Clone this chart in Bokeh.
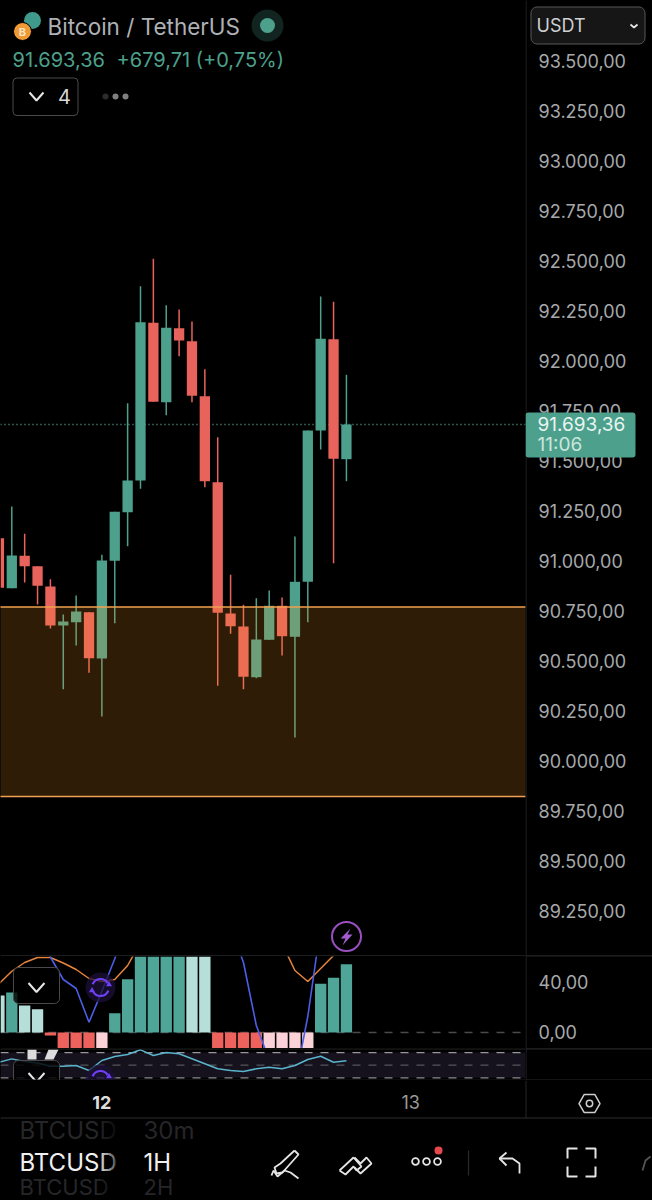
from bokeh.plotting import figure
from bokeh.layouts import column
from bokeh.models import Range1d, FixedTicker, Span, BoxAnnotation, LinearAxis
from bokeh.core.properties import value
from bokeh.embed import file_html
from bokeh.resources import INLINE

# ---- data ----
opens  = [91119,90869,91031,90979,90877.5,90682.5,90699,90749,90517.5,91006,91249,91407.5,92196,91799,92169,92104,91829,91399,90742.5,90677.5,90424,90611,90781,90626,90901,91657.5,92114,91514]
highs  = [91119,91277.5,91141,90979,90914,90737.5,90832.5,90749,91036,91251,91794,92379,92516,92284,92262.5,92202.5,91964,91624,90936,90786,90819,90857.5,90822.5,91127.5,91657.5,92327.5,92301,91936]
lows   = [90871,90869,90897.5,90787.5,90667.5,90364,90582.5,90446,90227.5,90694,91079,91366,91801,91734,92029,91799,91374,90381,90641,90364,90419,90611,90532.5,90122.5,90699,91562.5,90994,91404]
closes = [90871,91032.5,90979,90881,90682.5,90702.5,90752.5,90519,91007.5,91251,91407.5,92199,91801,92171,92107.5,91831,91404,90746,90679,90426,90612.5,90781,90629,90901,91657.5,92116,91516,91687.5]
last_price_level = 91687.5
zone_top, zone_bottom = 90775, 89827.5
price_ticks = [93500,93250,93000,92750,92500,92250,92000,91750,91500,91250,91000,90750,90500,90250,90000,89750,89500,89250]
price_labels = ["93.500,00","93.250,00","93.000,00","92.750,00","92.500,00","92.250,00","92.000,00","91.750,00","91.500,00","91.250,00","91.000,00","90.750,00","90.500,00","90.250,00","90.000,00","89.750,00","89.500,00","89.250,00"]

hist = [29.6,32,21.6,18.6,-2.4,-12.5,-12.5,-12.5,-12.5,15.4,42.6,70,75,78,72,65,62,-12.5,-12.5,-12.5,-12.5,-12.5,-12.5,-12.5,-12.5,39,43.8,54.6]
hist_kind = ["l","d","l","l","r","r","r","r","p","d","d","d","d","d","d","l","l","r","r","r","r","p","p","p","p","d","d","d"]
macd_orange = [39,49,56,60,60,55.6,50.4,43.2,40.8,42.4,53.6,72,90,105,115,120,122,118,108,97,88,78,71,49.6,40.8,51.2,61.6,70]
macd_blue = [110,95,88,80,60.4,42.4,35.2,8.2,33,59,90,120,135,140,138,130,120,105,85,56,5.6,-22,-30,-40,12.8,85,110,130]
rsi = [54.7,60,55.8,53.5,48.4,48.4,49.5,41.6,57.4,63.8,66.9,74.3,65.3,70.1,68,60.1,52.2,44.3,41.6,40,44.3,46.8,44.3,49.5,59,64.2,54.7,57]
rsi_levels = [70,50,30]
time_ticks = [8,32]
time_labels = ["12","13"]

# ---- style ----
BG="#000000"; GREEN="#4da08c"; RED="#e8635c"; AXIS="#a6a9ab"; RULE="#262628"; FONT="Inter"
hist_colors={"d":"#4fa598","l":"#b7dfd9","r":"#ee625e","p":"#fbd2d8"}
PX=12.87; X0=-1.57
xr=lambda w:((0-X0)/PX,(w-X0)/PX)
idx=list(range(len(opens)))

def base(h,w=525,right=127,yr=None,xw=525,**kw):
    s,e=xr(xw)
    f=figure(width=652,height=h,frame_width=w,frame_height=h,output_backend="svg",toolbar_location=None,
             x_range=Range1d(s,e),y_range=yr or Range1d(0,1),x_axis_location=None,y_axis_location=None,
             background_fill_color=BG,border_fill_color=BG,outline_line_color=None,
             min_border_left=0,min_border_right=right,min_border_top=0,min_border_bottom=0,**kw)
    f.grid.visible=False
    return f

def add_px(f,top,bottom,w):
    f.extra_x_ranges["px"]=Range1d(0,w)
    f.extra_y_ranges["py"]=Range1d(bottom,top)
P=dict(x_range_name="px",y_range_name="py")

def raxis(f,ticks,labels,shift,size="18px"):
    # the app draws its labels slightly above the true level; "shift" reproduces that
    pos=[t+shift for t in ticks]
    a=LinearAxis(ticker=FixedTicker(ticks=pos),major_label_overrides={t:l for t,l in zip(pos,labels)},
        axis_line_color=None,major_tick_line_color=None,minor_tick_line_color=None,major_tick_out=0,major_tick_in=0,
        major_label_standoff=13,major_label_text_color=AXIS,major_label_text_font=FONT,major_label_text_font_size=size)
    f.add_layout(a,"right")

def chevron(f,x,y,w=8,h=5,color="#e6e6e6",lw=2):
    f.line([x-w,x,x+w],[y-h,y+h,y-h],line_color=color,line_width=lw,**P)

def refresh(f,x,y,r=8.5):
    f.circle([x],[y],radius=15,fill_color="#1c1038",fill_alpha=0.75,line_color=None,**P)
    f.arc([x],[y],radius=r,start_angle=0.55,end_angle=2.75,line_color="#6e40f5",line_width=2.2,direction="anticlock",**P)
    f.arc([x],[y],radius=r,start_angle=3.7,end_angle=5.9,line_color="#6e40f5",line_width=2.2,direction="anticlock",**P)
    f.scatter([x-r,x+r],[y+3,y-3],marker="triangle",size=6,fill_color="#6e40f5",line_color=None,**P)

# ---- main pane ----
H1=956
main=base(H1,yr=Range1d(89027.5,93807.5))
add_px(main,0,H1,525)
raxis(main,price_ticks,price_labels,5)
main.add_layout(Span(location=last_price_level,dimension="width",line_color="#5aa896",line_width=1.3,line_dash="1 3",level="underlay"))
colors=[GREEN if c>=o else RED for o,c in zip(opens,closes)]
main.segment(idx,lows,idx,highs,line_color=colors,line_width=1.5)
main.vbar(idx,0.8,[max(o,c) for o,c in zip(opens,closes)],[min(o,c) for o,c in zip(opens,closes)],fill_color=colors,line_color=None)
xs_,xe_=xr(525)
main.quad(left=[xs_-1],right=[xe_+1],top=[zone_top],bottom=[zone_bottom],fill_color="#ff9a20",fill_alpha=0.18,line_color=None)
for z in (zone_top,zone_bottom):
    main.line([xs_-1,xe_+1],[z,z],line_color="#f0a050",line_width=1.5)

# header
main.circle([32],[20],radius=8.5,fill_color="#3f9a8c",line_color=None,**P)
main.circle([22],[31],radius=9,fill_color="#f09a36",line_color="#000000",line_width=1,**P)
main.text([22],[31],text=["B"],text_color="#f8e3c0",text_font=value(FONT),text_font_style="bold",text_font_size="11px",text_align="center",text_baseline="middle",**P)
main.text([47],[26],text=["Bitcoin / TetherUS"],text_color="#aeb1b6",text_font=value(FONT),text_font_size="22.5px",text_baseline="middle",**P)
main.circle([267],[25],radius=16,fill_color="#11241f",line_color=None,**P)
main.circle([267],[25],radius=7.5,fill_color=GREEN,line_color=None,**P)
main.text([12],[59],text=["91.693,36"],text_color=GREEN,text_font=value(FONT),text_font_size="20px",text_baseline="middle",**P)
main.text([116],[59],text=["+679,71 (+0,75%)"],text_color=GREEN,text_font=value(FONT),text_font_size="20px",text_baseline="middle",**P)
main.quad(left=[12.5],right=[77.5],top=[77.5],bottom=[115],fill_color=BG,line_color="#4a4a4a",line_width=1,border_radius=4,**P)
chevron(main,36,96,7,4)
main.text([64],[96],text=["4"],text_color="#d8d8d8",text_font=value(FONT),text_font_size="20px",text_align="center",text_baseline="middle",**P)
main.circle([105,115,125],[96,96,96],radius=3,fill_color=["#2c2c2c","#808080","#808080"],line_color=None,**P)
# lightning badge
main.circle([346],[936],radius=14.5,fill_color=BG,line_color="#9a4fc2",line_width=2,**P)
main.patch([350,340,345,342,352,347],[928,938,938,945,934,934],fill_color="#a35bd0",line_color=None,**P)
main.line([0,525],[955.3,955.3],line_color=RULE,line_width=1.2,**P)

# ---- oscillator pane ----
H2=92
macd=base(H2,yr=Range1d(-12.8,60.8))
add_px(macd,956,1048,525)
raxis(macd,[40,0],["40,00","0,00"],0.8)
macd.add_layout(Span(location=0,dimension="width",line_color="#4a4a4a",line_width=1.3,line_dash="8 8",level="underlay"))
macd.vbar(idx,0.88,hist,0,fill_color=[hist_colors[k] for k in hist_kind],line_color=None)
macd.line(idx,macd_orange,line_color="#e8843c",line_width=1.5)
macd.line(idx,macd_blue,line_color="#4a5fe6",line_width=1.6)
macd.quad(left=[13],right=[59],top=[967],bottom=[1003],fill_color=BG,fill_alpha=0.82,line_color="#4a4a4a",line_width=1,border_radius=5,**P)
chevron(macd,36,987,8,4.5)
refresh(macd,100,987)

# ---- rsi pane ----
H3=32
rs=base(H3,yr=Range1d(25.8,76.4))
add_px(rs,1048,1080,525)
rs.add_layout(BoxAnnotation(top=rsi_levels[0],bottom=rsi_levels[2],fill_color="#15111d",fill_alpha=1,line_color=None,level="underlay"))
for lv,c in zip(rsi_levels,["#9a9a9e","#55555a","#8a8a8e"]):
    rs.add_layout(Span(location=lv,dimension="width",line_color=c,line_width=1.2,line_dash="8 8",level="underlay"))
rs.line(idx,rsi,line_color="#5ab4cc",line_width=1.5)
rs.quad(left=[27],right=[36],top=[1049],bottom=[1059],fill_color="#dcdcdc",line_color=None,**P)
rs.patch([48,58,53,44],[1049,1049,1059,1059],fill_color="#dcdcdc",line_color=None,**P)
rs.quad(left=[13],right=[59],top=[1060],bottom=[1090],fill_color=BG,fill_alpha=0.82,line_color="#4a4a4a",line_width=1,border_radius=5,**P)
chevron(rs,36,1077,8,4.5)
refresh(rs,100,1079)
rs.line([0,525],[1048.4,1048.4],line_color=RULE,line_width=1.2,**P)
rs.line([0,525],[1079.6,1079.6],line_color="#1c1c1e",line_width=1.2,**P)

# ---- time axis and bottom bar ----
H4=120
tp=base(H4,w=652,right=0,xw=652,yr=Range1d(0,1))
add_px(tp,1080,1200,652)
tp.text([time_ticks[0]],[0.82],text=[time_labels[0]],text_color="#dddddd",text_font=value(FONT),text_font_style="bold",text_font_size="18px",text_align="center",text_baseline="middle")
tp.text([time_ticks[1]],[0.82],text=[time_labels[1]],text_color="#9a9a9a",text_font=value(FONT),text_font_size="18px",text_align="center",text_baseline="middle")
tp.line([525.5,525.5],[1080,1118],line_color=RULE,line_width=1,**P)
tp.line([0,652],[1117.5,1117.5],line_color="#2c2c2e",line_width=1.2,**P)
tp.scatter([589],[1103],marker="hex",size=21,fill_color=None,line_color="#cccccc",line_width=1.5,**P)
tp.circle([589],[1103],radius=3.2,fill_color=None,line_color="#cccccc",line_width=1.5,**P)
def T(x,y,s,c,sz,**kw):
    tp.text([x],[y],text=[s],text_color=c,text_font=value(FONT),text_font_size=sz,text_baseline="middle",**P,**kw)
DIM="#262628"
T(19,1130,"BTCUSD",DIM,"24px"); T(143,1130,"30m",DIM,"24px")
T(19,1162,"BTCUSD","#f0f0f0","24px"); T(143,1162,"1H","#f0f0f0","24px")
T(19,1186,"BTCUSD",DIM,"22px"); T(143,1186,"2H",DIM,"22px")
for i in range(8):
    tp.quad(left=[98+i*3],right=[101+i*3],top=[1120],bottom=[1200],fill_color=BG,fill_alpha=0.08+i*0.11,line_color=None,**P)
W=dict(line_color="#e4e4e4",line_width=1.8)
# pencil
tp.line([294,298,282,276,274,280,294],[1150,1154,1172,1173,1167,1163,1150],**W,**P)
tp.line([271,273,277,284,290,298],[1175,1170,1176,1170,1172,1178],**W,**P)
# ribbon
tp.line([339,353,361,356,353,345,339],[1170,1157,1166,1170,1166,1174,1170],**W,**P)
tp.line([354,360,366,371,360,354],[1157,1163,1157,1163,1173,1167],**W,**P)
# dots
tp.circle([415,426,437],[1161,1161,1161],radius=3.4,fill_color=None,line_color="#e4e4e4",line_width=1.8,**P)
tp.circle([438],[1150],radius=4,fill_color="#e5484d",line_color=None,**P)
tp.line([468,468],[1150,1175],line_color="#2a2a2c",line_width=1.2,**P)
# undo
tp.line([506,499,506],[1152,1158,1165],**W,**P)
tp.line([499,512,519,519],[1158,1158,1163,1173],**W,**P)
# brackets
for xs,ys in [([567,567,577],[1158,1148,1148]),([585,595,595],[1148,1148,1158]),([567,567,577],[1166,1176,1176]),([585,595,595],[1176,1176,1166])]:
    tp.line(xs,ys,line_color="#e4e4e4",line_width=2,**P)
tp.line([642,645,650],[1170,1160,1156],line_color="#555555",line_width=1.8,**P)

# ---- transparent overlay above the price scale: selector, price tag, rules ----
ov=figure(width=127,height=1080,output_backend="svg",toolbar_location=None,
          x_range=Range1d(525,652),y_range=Range1d(1080,0),x_axis_location=None,y_axis_location=None,
          background_fill_alpha=0,border_fill_alpha=0,outline_line_color=None,min_border=0)
ov.grid.visible=False
ov.line([525.5,525.5],[0,1080],line_color=RULE,line_width=1)
for yy in (955.3,1048.4,1079.6):
    ov.line([525,652],[yy,yy],line_color=RULE,line_width=1.2)
ov.quad(left=[530.5],right=[644.5],top=[6.5],bottom=[43.5],fill_color="#161617",line_color="#55565a",line_width=1,border_radius=6)
ov.text([536],[25],text=["USDT"],text_color="#cfd0d2",text_font=value(FONT),text_font_size="18px",text_baseline="middle")
ov.line([630,633.5,637],[24,27,24],line_color="#e6e6e6",line_width=1.8)
ov.quad(left=[525],right=[635],top=[412],bottom=[457],fill_color=GREEN,line_color=None,border_radius=3)
ov.text([537],[423],text=["91.693,36"],text_color="#e9f5f1",text_font=value(FONT),text_font_size="19px",text_baseline="middle")
ov.text([537],[444],text=["11:06"],text_color="#cbe6dd",text_font=value(FONT),text_font_size="19px",text_baseline="middle")
ov.styles={"position":"fixed","left":"525px","top":"0px"}

page=column(main,macd,rs,tp,spacing=0)
page.styles={"position":"fixed","left":"0px","top":"0px","background-color":"#000000"}
open("out.html","w").write(file_html([page,ov],INLINE))
